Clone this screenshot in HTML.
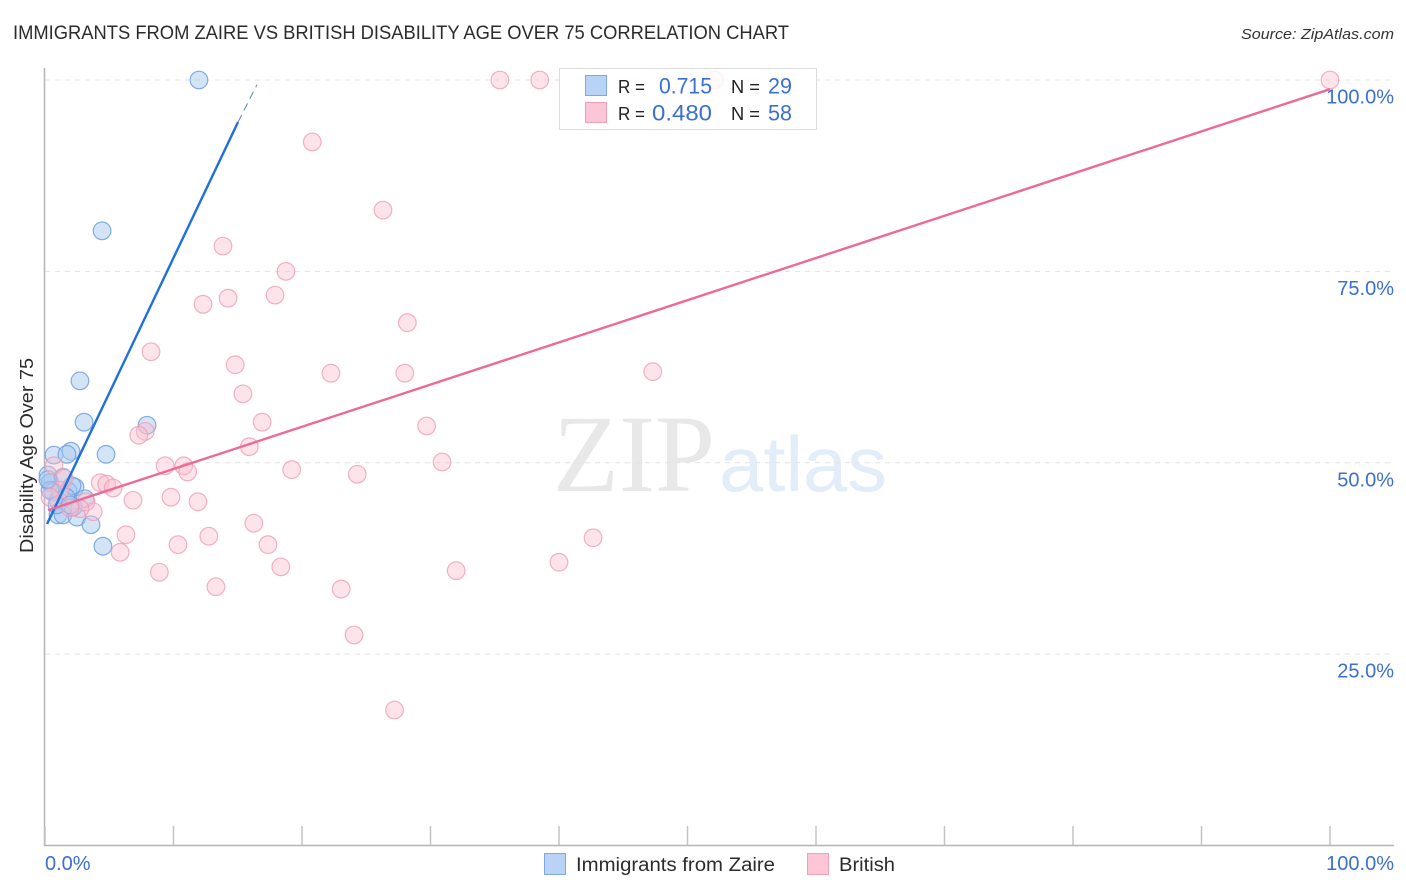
<!DOCTYPE html>
<html>
<head>
<meta charset="utf-8">
<title>Immigrants from Zaire vs British Disability Age Over 75 Correlation Chart</title>
<style>
html,body{margin:0;padding:0;background:#fff;}
body{width:1406px;height:892px;overflow:hidden;}
svg{display:block;font-family:"Liberation Sans",sans-serif;}
</style>
</head>
<body>
<svg id="chart" width="1406" height="892" viewBox="0 0 1406 892" xmlns="http://www.w3.org/2000/svg">
  <rect x="0" y="0" width="1406" height="892" fill="#ffffff"/>
  <text x="13" y="39" font-size="19" fill="#2b2b2b" textLength="776" lengthAdjust="spacingAndGlyphs">IMMIGRANTS FROM ZAIRE VS BRITISH DISABILITY AGE OVER 75 CORRELATION CHART</text>
  <text x="1394" y="39" font-size="15" font-style="italic" fill="#333" text-anchor="end" textLength="153" lengthAdjust="spacingAndGlyphs">Source: ZipAtlas.com</text>
  <g id="watermark">
    <text x="553" y="491" font-family="'Liberation Serif',serif" font-size="110" fill="#e8e8e8" textLength="162" lengthAdjust="spacingAndGlyphs">ZIP</text>
    <text x="719" y="491" font-size="78" fill="#e3ecf9" textLength="168" lengthAdjust="spacingAndGlyphs">atlas</text>
  </g>
  <g id="grid"></g>
  <g id="axes"></g>
  <text transform="translate(33,455.5) rotate(-90)" font-size="18.5" fill="#2b2b2b" text-anchor="middle" textLength="195" lengthAdjust="spacingAndGlyphs">Disability Age Over 75</text>
  <g id="points-blue"></g>
  <g id="points-pink"></g>
  <g id="trends"></g>
  <g id="tick-labels"></g>

  <g>
    <rect x="559.5" y="68.5" width="257" height="61" fill="#ffffff" fill-opacity="0.82" stroke="#dddddd" stroke-width="1"/>
    <rect x="585.5" y="75.5" width="21" height="20" fill="#b8d3f5" stroke="#80a8dc"/>
    <rect x="585.5" y="102.5" width="21" height="20" fill="#fcc6d6" stroke="#f0a0b8"/>
    <text x="618" y="93" font-size="18.5" fill="#222" textLength="27" lengthAdjust="spacingAndGlyphs">R =</text>
    <text x="659" y="93.5" font-size="22" fill="#3b6fd0" textLength="53" lengthAdjust="spacingAndGlyphs">0.715</text>
    <text x="731" y="93" font-size="18.5" fill="#222" textLength="29" lengthAdjust="spacingAndGlyphs">N =</text>
    <text x="768" y="93.5" font-size="22" fill="#3b6fd0" textLength="24" lengthAdjust="spacingAndGlyphs">29</text>
    <text x="618" y="120" font-size="18.5" fill="#222" textLength="27" lengthAdjust="spacingAndGlyphs">R =</text>
    <text x="652" y="120.5" font-size="22" fill="#3b6fd0" textLength="60" lengthAdjust="spacingAndGlyphs">0.480</text>
    <text x="731" y="120" font-size="18.5" fill="#222" textLength="29" lengthAdjust="spacingAndGlyphs">N =</text>
    <text x="768" y="120.5" font-size="22" fill="#3b6fd0" textLength="24" lengthAdjust="spacingAndGlyphs">58</text>
  </g>

  <g>
    <rect x="544.5" y="853.5" width="21" height="21" fill="#b8d3f5" stroke="#80a8dc"/>
    <text x="576" y="871" font-size="19" fill="#2b2b2b" textLength="199" lengthAdjust="spacingAndGlyphs">Immigrants from Zaire</text>
    <rect x="807.5" y="853.5" width="21" height="21" fill="#fcc6d6" stroke="#f0a0b8"/>
    <text x="839" y="871" font-size="19" fill="#2b2b2b" textLength="56" lengthAdjust="spacingAndGlyphs">British</text>
  </g>
</svg>
<script>
const yTickValues = [25, 50, 75, 100];
const yTickLabels = ['25.0%', '50.0%', '75.0%', '100.0%'];
const xTickValues = [0, 10, 20, 30, 40, 50, 60, 70, 80, 90, 100];
const xEndValues = [0, 100];
const xEndLabels = ['0.0%', '100.0%'];

const zaireX = [11.98, 4.44, 2.72, 3.04, 7.94, 4.75, 0.70, 2.02, 1.71, 0.23, 0.39, 1.40, 2.33, 1.79, 0.62, 3.11, 1.01, 1.40, 2.49, 3.58, 4.51, 2.18, 1.01, 0.39, 2.10, 1.63, 0.93, 1.95, 0.23];
const zaireY = [100, 80.3, 60.7, 55.3, 54.9, 51.1, 51.0, 51.5, 51.1, 48.4, 47.4, 48.1, 46.8, 46.3, 46.2, 45.3, 43.2, 43.2, 42.9, 41.9, 39.1, 44.2, 45.1, 46.4, 47.0, 45.5, 44.5, 44.5, 47.8];

const britishX = [35.4, 38.5, 52.1, 100, 20.8, 26.3, 13.85, 18.75, 17.9, 14.25, 12.3, 28.2, 8.25, 14.8, 22.25, 28.0, 47.3, 15.4, 16.9, 29.7, 7.8, 7.3, 15.9, 30.9, 9.35, 10.8, 11.1, 19.2, 24.3, 4.3, 4.8, 5.3, 6.85, 9.8, 11.9, 3.75, 16.25, 6.3, 12.75, 10.35, 17.35, 5.85, 42.65, 40.0, 18.35, 8.9, 32.0, 13.3, 23.05, 24.05, 27.2, 0.7, 1.48, 1.17, 3.2, 2.72, 1.95, 0.39];
const britishY = [100, 100, 100, 100, 91.9, 83.0, 78.3, 75.0, 71.9, 71.5, 70.7, 68.3, 64.5, 62.8, 61.7, 61.7, 61.9, 59.0, 55.3, 54.8, 54.1, 53.6, 52.1, 50.1, 49.6, 49.6, 48.8, 49.1, 48.5, 47.4, 47.2, 46.7, 45.1, 45.5, 44.9, 43.6, 42.1, 40.6, 40.4, 39.3, 39.3, 38.3, 40.2, 37.0, 36.4, 35.7, 35.9, 33.8, 33.5, 27.5, 17.7, 49.6, 48.0, 46.4, 44.9, 44.0, 44.1, 45.5];

const zaireTrendX = [0.16, 15.02];
const zaireTrendY = [42.0, 94.5];
const zaireDashX = [15.02, 16.5];
const zaireDashY = [94.5, 99.4];
const britishTrendX = [0.23, 100];
const britishTrendY = [43.8, 98.8];

const NS = 'http://www.w3.org/2000/svg';
function xScale(v) { return 45 + v * 12.85; }
function yScale(v) { return 845.5 - v * 7.655; }
function make(parentId, tag, attrs, text) {
  const el = document.createElementNS(NS, tag);
  for (const k in attrs) el.setAttribute(k, attrs[k]);
  if (text !== undefined) el.textContent = text;
  document.getElementById(parentId).appendChild(el);
  return el;
}

yTickValues.forEach(function (v) {
  const line = make('grid', 'line', { x1: 45, x2: 1394, y1: yScale(v), y2: yScale(v), stroke: '#e2e2e2', 'stroke-width': 1, 'stroke-dasharray': '5 5' });
  
  
});

const yAxisLine = make('axes', 'line', { x1: 44.5, x2: 44.5, y1: 68, y2: 846, stroke: '#b5b5b5', 'stroke-width': 1.5 });


const xAxisLine = make('axes', 'line', { x1: 44, x2: 1394, y1: 845.5, y2: 845.5, stroke: '#b5b5b5', 'stroke-width': 1.5 });


xTickValues.forEach(function (v) {
  const tick = make('axes', 'line', { x1: xScale(v), x2: xScale(v), y1: 826, y2: 845, stroke: '#c4c4c4', 'stroke-width': 1.5 });
  
  
});

zaireX.forEach(function (v, i) {
  const dot = make('points-blue', 'circle', { cx: xScale(v), cy: yScale(zaireY[i]), r: 8.8, fill: '#a9c9f0', 'fill-opacity': 0.5, stroke: '#6f9fe0', 'stroke-opacity': 0.85, 'stroke-width': 1.2 });
  
  
});
britishX.forEach(function (v, i) {
  const dot = make('points-pink', 'circle', { cx: xScale(v), cy: yScale(britishY[i]), r: 8.8, fill: '#fbbfd0', 'fill-opacity': 0.42, stroke: '#ee9db5', 'stroke-opacity': 0.8, 'stroke-width': 1.2 });
  
  
});

const zaireTrend = make('trends', 'line', { x1: xScale(zaireTrendX[0]), y1: yScale(zaireTrendY[0]), x2: xScale(zaireTrendX[1]), y2: yScale(zaireTrendY[1]), stroke: '#1f6fdc', 'stroke-width': 2.4 });


const zaireDash = make('trends', 'line', { x1: xScale(zaireDashX[0]), y1: yScale(zaireDashY[0]), x2: xScale(zaireDashX[1]), y2: yScale(zaireDashY[1]), stroke: '#5f86c8', 'stroke-width': 1, 'stroke-dasharray': '8 5' });


const britishTrend = make('trends', 'line', { x1: xScale(britishTrendX[0]), y1: yScale(britishTrendY[0]), x2: xScale(britishTrendX[1]), y2: yScale(britishTrendY[1]), stroke: '#ec6a98', 'stroke-width': 2.4 });



yTickValues.forEach(function (v, i) {
  const label = make('tick-labels', 'text', { x: 1394, y: yScale(v) + 23.5, 'font-size': 20, fill: '#3b6fd0', 'text-anchor': 'end' }, yTickLabels[i]);
  
  
});
xEndValues.forEach(function (v, i) {
  const label = make('tick-labels', 'text', { x: i === 0 ? xScale(v) : 1394, y: 870, 'font-size': 20, fill: '#3b6fd0', 'text-anchor': i === 0 ? 'start' : 'end' }, xEndLabels[i]);
  
  
});
</script>
</body>
</html>
